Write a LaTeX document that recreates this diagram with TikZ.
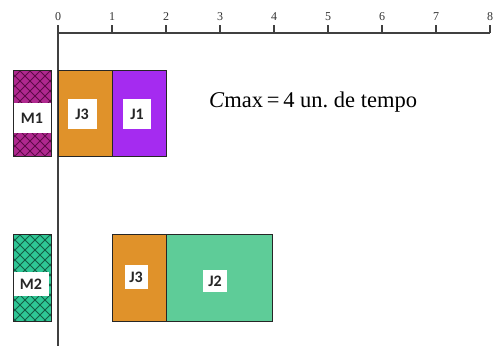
\documentclass[tikz,border=0pt]{standalone}
\usepackage{fontspec}
\setmainfont{Liberation Serif}
\newfontfamily\lblfont{Carlito}
\definecolor{mone}{HTML}{B0288F}
\definecolor{monel}{HTML}{5E0A48}
\definecolor{mtwo}{HTML}{2EC795}
\definecolor{mtwol}{HTML}{145E45}
\definecolor{jthree}{HTML}{E0922A}
\definecolor{jone}{HTML}{A52BF0}
\definecolor{jtwo}{HTML}{5ECC98}
\tikzset{
  axis/.style={draw=black!75, line width=1.5pt},
  tick/.style={draw=black!75, line width=1.3pt},
  ticklbl/.style={font=\fontsize{12}{12}\selectfont, text=black!80, inner sep=0pt},
  jobbox/.style={draw=black!85, line width=1pt},
  machbox/.style={draw=black!85, line width=1pt},
  hatch/.style={line width=0.9pt},
  lbl/.style={fill=white, font=\lblfont\bfseries\fontsize{16}{16}\selectfont, inner sep=1pt, text=black!85}
}
\begin{document}
\begin{tikzpicture}[x=1pt,y=-1pt]
\useasboundingbox (0,0) rectangle (495,347);
% axes
\coordinate (o) at (58,33);
\coordinate (xe) at (490,33);
\coordinate (ye) at (58,346);
\draw[axis] (o) -- (xe);
\draw[axis] (o) -- (ye);
\foreach \i in {0,...,8} {
  \pgfmathsetmacro{\xx}{58+54*\i}
  \draw[tick] (\xx,33) -- (\xx,25);
  \node[ticklbl] (t\i) at (\xx,17) {\i};
}
% M1
\fill[mone] (13,71) rectangle (51,157);
\begin{scope}
  \clip (13,71) rectangle (51,157);
  \foreach \k in {-100,-90,...,140} {
    \draw[hatch, monel] (\k,71) -- ++(90,90);
    \draw[hatch, monel] (\k,161) -- ++(90,-90);
  }
\end{scope}
\draw[machbox] (13,71) rectangle (51,157);
\node[lbl, minimum width=37pt, minimum height=30pt] (m1) at (32,118) {M1};
% M1 jobs
\draw[jobbox, fill=jthree] (58,71) rectangle (112,157);
\draw[jobbox, fill=jone] (112,71) rectangle (166,157);
\node[lbl, minimum width=29pt, minimum height=30pt] (j3a) at (82,114) {J3};
\node[lbl, minimum width=28pt, minimum height=30pt] (j1) at (137,114) {J1};
% M2
\fill[mtwo] (13,235) rectangle (51,321);
\begin{scope}
  \clip (13,235) rectangle (51,321);
  \foreach \k in {-100,-90,...,140} {
    \draw[hatch, mtwol] (\k,235) -- ++(90,90);
    \draw[hatch, mtwol] (\k,325) -- ++(90,-90);
  }
\end{scope}
\draw[machbox] (13,235) rectangle (51,321);
\node[lbl, minimum width=35pt, minimum height=23pt] (m2) at (31,284) {M2};
% M2 jobs
\draw[jobbox, fill=jthree] (112,235) rectangle (166,321);
\draw[jobbox, fill=jtwo] (166,235) rectangle (272,321);
\node[lbl, minimum width=23pt, minimum height=23pt] (j3b) at (136,277) {J3};
\node[lbl, minimum width=24pt, minimum height=22pt] (j2) at (215,281) {J2};
% Cmax
\node[anchor=west, font=\fontsize{22.5}{22.5}\selectfont, inner sep=0pt] (cmax) at (209,102) {\textit{C}max\,=\,4 un.\ de tempo};
\end{tikzpicture}
\end{document}
